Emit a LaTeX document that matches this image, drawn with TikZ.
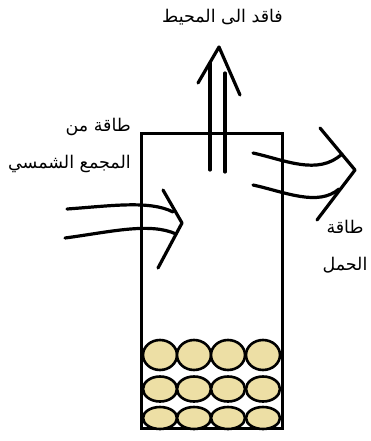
\documentclass[tikz,border=0pt]{standalone}
\usepackage{fontspec}
\usetikzlibrary{positioning}
\TeXXeTstate=1
\newfontfamily\arabicfont[Script=Arabic]{DejaVu Sans}
\definecolor{pebble}{RGB}{237,223,165}

\tikzset{
  flow/.style={line width=3.2pt, line cap=round, line join=round},
  pebblestone/.style={draw, line width=2.6pt, fill=pebble},
  arlabel/.style={font=\arabicfont\fontsize{17.5}{37}\selectfont, inner sep=0pt}
}

\begin{document}
\begin{tikzpicture}[x=1pt, y=-1pt]
\useasboundingbox (0,0) rectangle (370,441);

% storage tank
\node[draw, line width=3pt, minimum width=141pt, minimum height=295pt, inner sep=0pt] (tank) at (211.5,280.5) {};

% pebble bed, rows from top to bottom
\foreach \cy/\ry in {355/15, 389/12.5, 418/11}
  \foreach \cx in {160,194,228,263}
    \draw[pebblestone] (\cx,\cy) ellipse (17 and \ry);

% labels (base = baseline of the last line)
\node[arlabel, anchor=base] (loss) at (222.5,23) {\beginR فاقد الى المحيط\endR};
\node[arlabel, align=right, anchor=base east] (source) at (131,168) {\beginR طاقة من\endR\\ \beginR المجمع الشمسي\endR};
\node[arlabel, align=center, anchor=base] (load) at (345,270) {\beginR طاقة\endR\\ \beginR الحمل\endR};

% loss to surroundings
\coordinate (lossTip) at (219,47);
\coordinate (lossL) at (210,170);
\coordinate (lossR) at (225,172);
\draw[flow] (lossL) -- (lossL |- 0,63);
\draw[flow] (lossR) -- (lossR |- 0,73);
\draw[flow] (198,83) -- (lossTip) -- (240,95);

% energy from the collector
\coordinate (inTip) at (182,223);
\draw[flow] (67,209) .. controls (110,206) and (150,200) .. (173,212);
\draw[flow] (65,238) .. controls (110,232) and (150,222) .. (176,234);
\draw[flow] (163,190) -- (inTip) -- (158,268);

% energy to the load
\coordinate (outTip) at (355,170);
\draw[flow] (253,153) .. controls (285,160) and (318,176) .. (342,154);
\draw[flow] (253,185) .. controls (285,192) and (318,207) .. (339,189);
\draw[flow] (320,128) -- (outTip) -- (317,220);
\end{tikzpicture}
\end{document}
